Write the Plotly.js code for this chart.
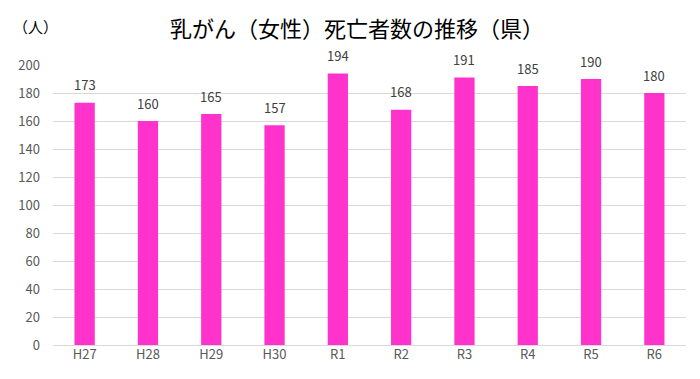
<!DOCTYPE html>
<html><head><meta charset="utf-8">
<script src="https://cdn.plot.ly/plotly-3.0.1.min.js"></script>
<style>html,body{margin:0;padding:0;background:#fff}#c{width:700px;height:379px}</style>
</head><body><div id="c"></div>
<script>
const categories = ["H27","H28","H29","H30","R1","R2","R3","R4","R5","R6"];
const deaths = [173,160,165,157,194,168,191,185,190,180];
const yTicks = [0,20,40,60,80,100,120,140,160,180,200];
const font = "Noto Sans CJK JP, sans-serif";
const valueLabels = categories.map((c, i) => ({
  x: c, y: deaths[i], xref: "x", yref: "y", text: String(deaths[i]),
  showarrow: false, yanchor: "middle", yshift: 18,
  font: {family: font, size: 13, color: "#404040"}
}));
Plotly.newPlot("c", [{
  type: "bar", x: categories, y: deaths,
  marker: {color: "#FF33CC"},
  hoverinfo: "x+y"
}], {
  width: 700, height: 379,
  margin: {l: 53, r: 14, t: 65, b: 34},
  paper_bgcolor: "#fff", plot_bgcolor: "#fff",
  bargap: 0.68,
  title: {text: "乳がん（女性）死亡者数の推移（県）", font: {family: font, size: 22, color: "#000"}, x: 0.51, xanchor: "center", y: 0.922, yanchor: "middle"},
  xaxis: {type: "category", showgrid: false, showline: false, zeroline: false, ticks: "", tickfont: {family: font, size: 13, color: "#595959"}},
  yaxis: {range: [0, 200], tickvals: yTicks, showgrid: true, gridcolor: "#D9D9D9", gridwidth: 1, zeroline: true, zerolinecolor: "#D9D9D9", showline: false, ticks: "", ticklabelstandoff: 12, tickfont: {family: font, size: 13, color: "#595959"}},
  annotations: valueLabels.concat([{text: "（人）", xref: "paper", yref: "paper", x: -0.0284, y: 1.139, xanchor: "center", yanchor: "middle", showarrow: false, font: {family: font, size: 15, color: "#000"}}]),
  showlegend: false
}, {displayModeBar: false, staticPlot: true});
</script></body></html>
